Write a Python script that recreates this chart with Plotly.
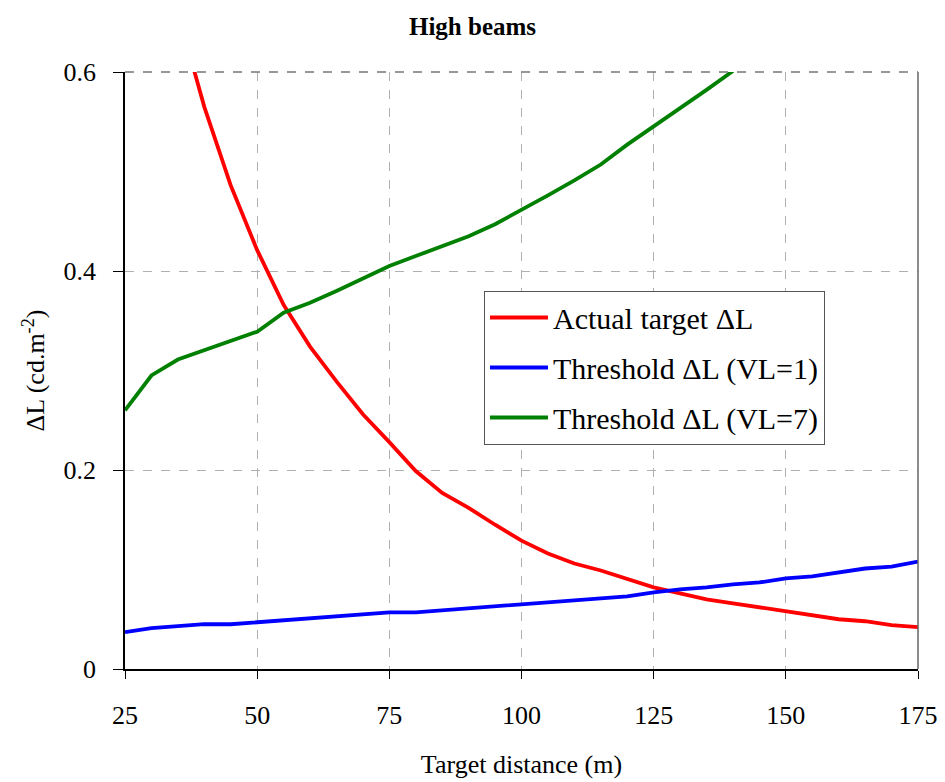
import plotly.graph_objects as go

# ---- data ----
x_actual = [35, 40, 45, 50, 55, 60, 65, 70, 75, 80, 85, 90, 95, 100, 105, 110, 115, 120,
            125, 130, 135, 140, 145, 150, 155, 160, 165, 170, 175]
y_actual = [0.66, 0.565, 0.486, 0.421, 0.366, 0.324, 0.289, 0.256, 0.228, 0.199, 0.177, 0.162,
            0.145, 0.129, 0.116, 0.106, 0.099, 0.091, 0.082, 0.076, 0.070, 0.066, 0.062,
            0.058, 0.054, 0.050, 0.048, 0.044, 0.042]

x_vl1 = [25, 30, 35, 40, 45, 50, 55, 60, 65, 70, 75, 80, 85, 90, 95, 100, 105, 110, 115,
         120, 125, 130, 135, 140, 145, 150, 155, 160, 165, 170, 175]
y_vl1 = [0.037, 0.041, 0.043, 0.045, 0.045, 0.047, 0.049, 0.051, 0.053, 0.055, 0.057,
         0.057, 0.059, 0.061, 0.063, 0.065, 0.067, 0.069, 0.071, 0.073, 0.077, 0.080,
         0.082, 0.085, 0.087, 0.091, 0.093, 0.097, 0.101, 0.103, 0.108]

x_vl7 = [25, 30, 35, 40, 45, 50, 55, 60, 65, 70, 75, 80, 85, 90, 95, 100, 105, 110, 115,
         120, 125, 130, 135, 140]
y_vl7 = [0.260, 0.295, 0.311, 0.320, 0.329, 0.339, 0.358, 0.368, 0.380, 0.393, 0.405,
         0.415, 0.425, 0.435, 0.447, 0.461, 0.476, 0.491, 0.507, 0.527, 0.545, 0.564,
         0.582, 0.601]

names = ["Actual target \u0394L", "Threshold \u0394L (VL=1)", "Threshold \u0394L (VL=7)"]
colors = ["#ff0000", "#0000ff", "#008000"]
x_ticks = [25, 50, 75, 100, 125, 150, 175]
y_ticks = [0, 0.2, 0.4, 0.6]

FONT = "Liberation Serif"

fig = go.Figure()
for i, (xs, ys) in enumerate([(x_actual, y_actual), (x_vl1, y_vl1), (x_vl7, y_vl7)]):
    fig.add_trace(go.Scatter(
        x=xs, y=ys, mode="lines", name=names[i], legendgroup=f"g{i}",
        line=dict(color=colors[i], width=3.8), cliponaxis=True,
    ))

fig.update_layout(
    width=945, height=782,
    margin=dict(l=125, r=27, t=72, b=113, autoexpand=False),
    paper_bgcolor="white", plot_bgcolor="white",
    font=dict(family=FONT, color="black", size=22),
    title=dict(text="<b>High beams</b>", x=0.5, xanchor="center", y=0.966, yanchor="middle",
               font=dict(family=FONT, size=25, color="black")),
    showlegend=True,
    legend=dict(x=0.4527, y=0.634, xanchor="left", yanchor="top",
                bgcolor="white", bordercolor="#555555", borderwidth=1,
                font=dict(family=FONT, size=30, color="black"),
                traceorder="grouped", tracegroupgap=8, itemwidth=58),
)

fig.update_xaxes(
    range=[25, 175], tickvals=x_ticks, ticktext=[str(v) for v in x_ticks],
    showgrid=True, gridcolor="#b0b0b0", griddash="dash", gridwidth=1.3,
    showline=True, linecolor="black", linewidth=1.5, mirror=False,
    ticks="outside", ticklen=8, tickcolor="black", tickwidth=1.3,
    tickfont=dict(family=FONT, size=26), ticklabelstandoff=14,
    title=dict(text="Target distance (m)", font=dict(family=FONT, size=26), standoff=26),
    zeroline=False, automargin=False,
)
fig.update_yaxes(
    range=[0, 0.6], tickvals=y_ticks, ticktext=["0", "0.2", "0.4", "0.6"],
    showgrid=True, gridcolor="#b0b0b0", griddash="dash", gridwidth=1.3,
    showline=True, linecolor="black", linewidth=1.5, mirror=False,
    ticks="outside", ticklen=10, tickcolor="black", tickwidth=1.3,
    tickfont=dict(family=FONT, size=26), ticklabelstandoff=12,
    title=dict(text="\u0394L (cd.m<sup>-2</sup>)", font=dict(family=FONT, size=26), standoff=11),
    zeroline=False, automargin=False,
)
# right frame edge
fig.add_shape(type="line", xref="paper", yref="paper", x0=1, x1=1, y0=0, y1=1,
              line=dict(color="#666666", width=1.5))
# top frame edge
fig.add_shape(type="line", xref="paper", yref="paper", x0=0, x1=1, y0=1, y1=1,
              line=dict(color="#777777", width=1.3, dash="dash"))

fig.write_html("out.html")
